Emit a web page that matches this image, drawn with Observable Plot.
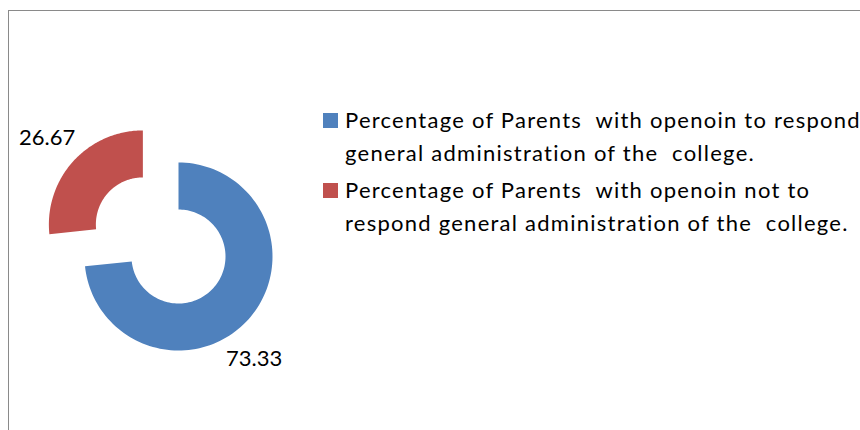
<!DOCTYPE html>
<html>
<head>
<meta charset="utf-8">
<script src="https://cdn.jsdelivr.net/npm/d3@7"></script>
<script src="https://cdn.jsdelivr.net/npm/@observablehq/plot@0.6"></script>
<style>
  html, body { margin: 0; padding: 0; background: #ffffff; }
  #wrap { position: relative; width: 860px; height: 430px; overflow: hidden; background: #fff; }
  #frame { position: absolute; left: 8px; top: 10px; width: 900px; height: 500px;
           border-left: 1px solid #8a8a8a; border-top: 1px solid #8a8a8a; box-sizing: border-box; }
  #chart { position: absolute; left: 0; top: 0; }
  #legend { position: absolute; left: 323px; top: 103px; font-family: Lato, "Open Sans", sans-serif;
            font-size: 22px; letter-spacing: 1.25px; color: #000; white-space: pre; }
  .item { position: relative; padding-left: 22px; line-height: 33px; margin-bottom: 4px; }
  .sw { position: absolute; left: 0; top: 10px; width: 15px; height: 15px; }
</style>
</head>
<body>
<div id="wrap">
  <div id="frame"></div>
  <div id="chart"></div>
  <div id="legend"></div>
</div>
<script>
// ---- data ----
const categories = [
  "Percentage of Parents  with openoin to respond\ngeneral administration of the  college.",
  "Percentage of Parents  with openoin not to\nrespond general administration of the  college."
];
const values = [73.33, 26.67];
const valueLabels = ["73.33", "26.67"];
const colors = ["#4F81BD", "#C0504D"];

// ---- geometry (data units, radius 1) ----
const innerR = 0.5;
const explode = [0, 0.51];
const labelR = 1.37;
const pie = d3.pie().sort(null).value(d => d)(values);

const polys = [];
const labelRows = [];
pie.forEach((a, i) => {
  const mid = (a.startAngle + a.endAngle) / 2;
  const ox = explode[i] * Math.sin(mid), oy = explode[i] * Math.cos(mid);
  const n = 120;
  const pts = [];
  for (let k = 0; k <= n; k++) {
    const t = a.startAngle + (a.endAngle - a.startAngle) * k / n;
    pts.push({x: ox + Math.sin(t), y: oy + Math.cos(t), key: i});
  }
  for (let k = n; k >= 0; k--) {
    const t = a.startAngle + (a.endAngle - a.startAngle) * k / n;
    pts.push({x: ox + innerR * Math.sin(t), y: oy + innerR * Math.cos(t), key: i});
  }
  polys.push(pts);
  labelRows.push({x: ox + labelR * Math.sin(mid), y: oy + labelR * Math.cos(mid), text: valueLabels[i], key: i});
});

const cx = 178, cy = 256, R = 94;
const labelNudge = [[-20, 16], [0, 0]];

const plot = Plot.plot({
  width: 860,
  height: 430,
  margin: 0,
  x: {domain: [-1, 1], range: [cx - R, cx + R], axis: null},
  y: {domain: [-1, 1], range: [cy + R, cy - R], axis: null},
  style: {background: "transparent", overflow: "visible", fontFamily: "Lato, 'Open Sans', sans-serif"},
  marks: [
    ...polys.map((pts, i) => Plot.line(pts, {x: "x", y: "y", fill: colors[i], stroke: "none", curve: "linear-closed"})),
    ...labelRows.map((d, i) => Plot.text([d], {
      x: "x", y: "y", text: "text",
      dx: labelNudge[i][0], dy: labelNudge[i][1],
      fontSize: 22, fill: "#000",
      fontFamily: "Lato, 'Open Sans', sans-serif",
      letterSpacing: "0.6px"
    }))
  ]
});
document.getElementById("chart").appendChild(plot);

// legend
const leg = document.getElementById("legend");
categories.forEach((c, i) => {
  const item = document.createElement("div");
  item.className = "item";
  const sw = document.createElement("span");
  sw.className = "sw";
  sw.style.background = colors[i];
  item.appendChild(sw);
  item.appendChild(document.createTextNode(c));
  leg.appendChild(item);
});
</script>
</body>
</html>
